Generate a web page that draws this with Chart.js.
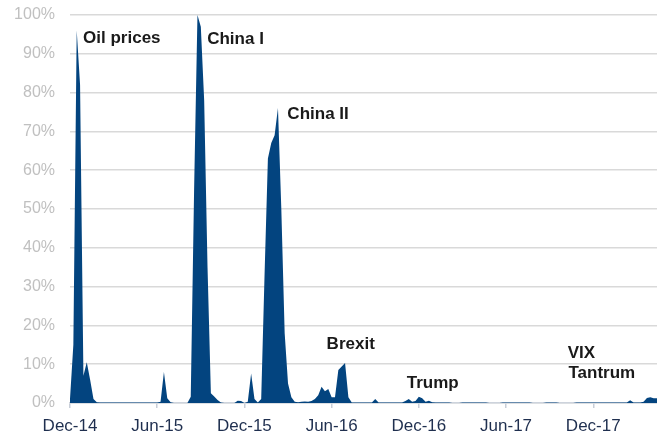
<!DOCTYPE html>
<html>
<head>
<meta charset="utf-8">
<script src="https://cdn.jsdelivr.net/npm/chart.js@4"></script>
<style>
  html, body { margin: 0; padding: 0; background: #fff; }
  #wrap { width: 657px; height: 433px; }
</style>
</head>
<body>
<div id="wrap"><canvas id="stress-chart" width="657" height="433"></canvas></div>
<script>
// weekly share of days in stress, Dec-14 onwards
const stressValues = [
  1, 15, 96, 82, 7, 10.5, 6, 1, 0.2, 0.15,
  0.15, 0.15, 0.15, 0.15, 0.15, 0.15, 0.15, 0.15, 0.15, 0.15,
  0.15, 0.15, 0.15, 0.15, 0.15, 0.15, 0.15, 0.3, 8, 1.2,
  0.2, 0, 0, 0, 0, 0, 1.6, 55, 100, 97,
  78, 35, 2.5, 1.7, 0.8, 0.1, 0, 0, 0, 0,
  0.6, 0.5, 0, 0.3, 7.6, 1, 0.1, 1, 33, 63,
  67, 69, 76, 50, 18, 5, 1.5, 0.3, 0.2, 0.3,
  0.4, 0.3, 0.5, 1, 2, 4.2, 3, 3.6, 1.5, 1.5,
  8.5, 9.4, 10.3, 1.5, 0.1, 0.1, 0.1, 0.1, 0.1, 0.1,
  0.1, 1, 0.1, 0.1, 0.1, 0.1, 0.1, 0.1, 0.1, 0.1,
  0.5, 1, 0.3, 0.5, 1.6, 1.2, 0.3, 0.6, 0.2, 0.1,
  0.1, 0.1, 0.1, 0.1, 0, 0, 0, 0.1, 0.1, 0.1,
  0.1, 0.1, 0.1, 0.1, 0.1, 0, 0, 0, 0, 0.1,
  0.1, 0.1, 0.1, 0.1, 0.1, 0.1, 0.1, 0.1, 0, 0,
  0, 0, 0.1, 0.1, 0.1, 0.1, 0, 0, 0, 0,
  0, 0.1, 0.1, 0.1, 0.15, 0.15, 0.15, 0.1, 0.1, 0.15,
  0.15, 0.15, 0.15, 0.15, 0.1, 0.1, 0.1, 0.7, 0.1, 0.1,
  0.1, 0.3, 1.3, 1.5, 1.2, 1.2
];

const tickLabels = ['Dec-14', 'Jun-15', 'Dec-15', 'Jun-16', 'Dec-16', 'Jun-17', 'Dec-17'];
const weeksPerTick = 26;

// one category per week, starting first week of Dec 2014
const weeks = stressValues.map((_, i) => {
  const d = new Date(Date.UTC(2014, 11, 1 + i * 7));
  return d.toISOString().substring(0, 10);
});

// event names, anchored at (week index, % level) of the text baseline
const eventNames = ['Oil prices', 'China I', 'China II', 'Brexit', 'Trump', 'VIX', 'Tantrum'];
const eventWeeks = [3.9, 40.9, 64.8, 76.5, 100.4, 148.4, 148.6];
const eventLevels = [92.9, 92.4, 73.1, 13.8, 3.9, 11.5, 6.4];

const eventLabels = {
  id: 'eventLabels',
  afterDatasetsDraw(chart) {
    const { ctx, scales } = chart;
    ctx.save();
    ctx.font = "bold 17px 'Liberation Sans', Arial, sans-serif";
    ctx.fillStyle = '#1a1a1a';
    ctx.textAlign = 'left';
    ctx.textBaseline = 'alphabetic';
    eventNames.forEach((name, i) => {
      const x = scales.x.getPixelForValue(eventWeeks[i]);
      const y = scales.y.getPixelForValue(eventLevels[i]);
      ctx.fillText(name, x, y);
    });
    ctx.restore();
  },
};

new Chart(document.getElementById('stress-chart'), {
  type: 'line',
  data: {
    labels: weeks,
    datasets: [
      {
        data: stressValues,
        borderColor: 'transparent',
        borderWidth: 0,
        backgroundColor: '#03447f',
        fill: 'origin',
        pointRadius: 0,
        tension: 0,
      },
    ],
  },
  options: {
    responsive: false,
    animation: false,
    devicePixelRatio: 1,
    layout: { padding: { top: 15, right: 0, left: 0, bottom: 0 } },
    plugins: {
      legend: { display: false },
      tooltip: { enabled: false },
    },
    scales: {
      x: {
        type: 'category',
        offset: false,
        afterBuildTicks: (scale) => {
          scale.ticks = scale.ticks.filter(
            (t) => t.value % weeksPerTick === 0 && t.value / weeksPerTick < tickLabels.length
          );
        },
        afterFit: (scale) => {
          scale.height = 30;
          scale.paddingLeft = 0;
          scale.paddingRight = 0;
        },
        grid: {
          drawOnChartArea: false,
          drawTicks: true,
          tickLength: 5,
          color: '#c8ced8',
          lineWidth: 1.5,
        },
        border: { display: true, color: '#cdd3dc', width: 1.5 },
        ticks: {
          autoSkip: false,
          maxRotation: 0,
          padding: 8,
          color: '#1f2f4f',
          font: { family: "'Liberation Sans', Arial, sans-serif", size: 17 },
          callback: (value) => tickLabels[value / weeksPerTick],
        },
      },
      y: {
        min: 0,
        max: 100,
        afterFit: (scale) => {
          scale.width = 70;
          scale.paddingTop = 0;
          scale.paddingBottom = 0;
        },
        grid: {
          drawTicks: false,
          color: '#d9d9d9',
          lineWidth: 1.5,
        },
        border: { display: false },
        ticks: {
          stepSize: 10,
          padding: 15,
          color: '#c0c0c0',
          font: { family: "'Liberation Sans', Arial, sans-serif", size: 16 },
          callback: (value) => value + '%',
        },
      },
    },
  },
  plugins: [eventLabels],
});
</script>
</body>
</html>
